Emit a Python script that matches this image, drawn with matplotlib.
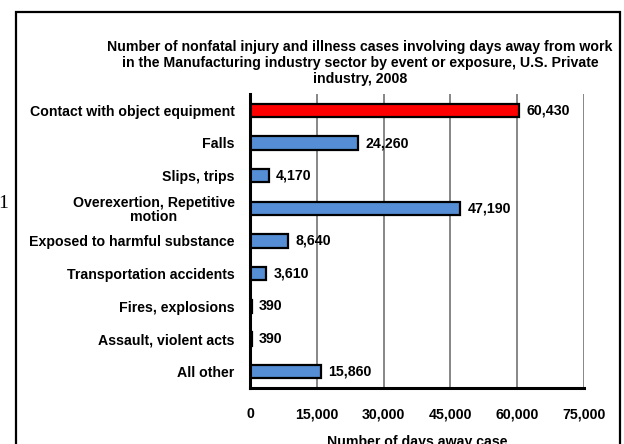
import matplotlib.pyplot as plt
from matplotlib.patches import Rectangle
from matplotlib.ticker import FuncFormatter

# Data
categories = [
    "Contact with object equipment",
    "Falls",
    "Slips, trips",
    "Overexertion, Repetitive\nmotion",
    "Exposed to harmful substance",
    "Transportation accidents",
    "Fires, explosions",
    "Assault, violent acts",
    "All other",
]
days_away = [60430, 24260, 4170, 47190, 8640, 3610, 390, 390, 15860]
x_ticks = [0, 15000, 30000, 45000, 60000, 75000]

title = ("Number of nonfatal injury and illness cases involving days away from work\n"
         "in the Manufacturing industry sector by event or exposure, U.S. Private\n"
         "industry, 2008")

plt.rcParams["font.family"] = ["Liberation Sans", "DejaVu Sans"]
plt.rcParams["font.weight"] = "bold"
FS = 10.2

W, H = 624, 444
fig = plt.figure(figsize=(W / 100, H / 100), dpi=100)
fig.patch.set_facecolor("white")

# outer frame (bottom edge runs off the picture)
fig.patches.append(Rectangle((16 / W, -0.1), (620 - 16) / W, 1.1 - 12 / H,
                             transform=fig.transFigure, fill=False,
                             edgecolor="black", linewidth=1.6))

ax = fig.add_axes([250 / W, 1 - 388 / H, (584 - 250) / W, (388 - 94) / H])

colors = ["#FF0000"] + ["#558ED5"] * (len(categories) - 1)
pos = list(range(len(categories)))
ax.barh(pos, days_away, height=0.4, color=colors, edgecolor="black",
        linewidth=1.6, zorder=3)

for p, v in zip(pos, days_away):
    ax.text(v + 1600, p, f"{v:,}", va="center", ha="left",
            fontsize=FS, fontweight="bold")

ax.set_xlim(0, 75000)
ax.set_ylim(len(categories) - 0.5, -0.5)
ax.set_xticks(x_ticks)
ax.xaxis.set_major_formatter(FuncFormatter(lambda v, _: f"{int(v):,}"))
ax.set_yticks(pos)
ax.set_yticklabels(categories, multialignment="center", linespacing=1.0)
ax.tick_params(axis="both", length=0, labelsize=FS)
ax.tick_params(axis="y", pad=11)
ax.tick_params(axis="x", pad=14)

ax.grid(True, axis="x", color="#868686", linewidth=1.4, zorder=0)
for s in ["top", "right"]:
    ax.spines[s].set_visible(False)
ax.spines["left"].set_linewidth(2.2)
ax.spines["bottom"].set_linewidth(2.2)
ax.spines["left"].set_zorder(4)

ax.set_xlabel("Number of days away case", fontsize=FS, fontweight="bold",
              labelpad=10)

fig.text(360 / W, 1 - 40 / H, title, ha="center", va="top", fontsize=FS,
         fontweight="bold", linespacing=1.2)

# stray glyph left of the frame
fig.text(-2 / W, 1 - 203 / H, "1", family="Liberation Serif",
         fontweight="normal", fontsize=14, va="center", ha="left")

fig.savefig("out.png", dpi=100)
